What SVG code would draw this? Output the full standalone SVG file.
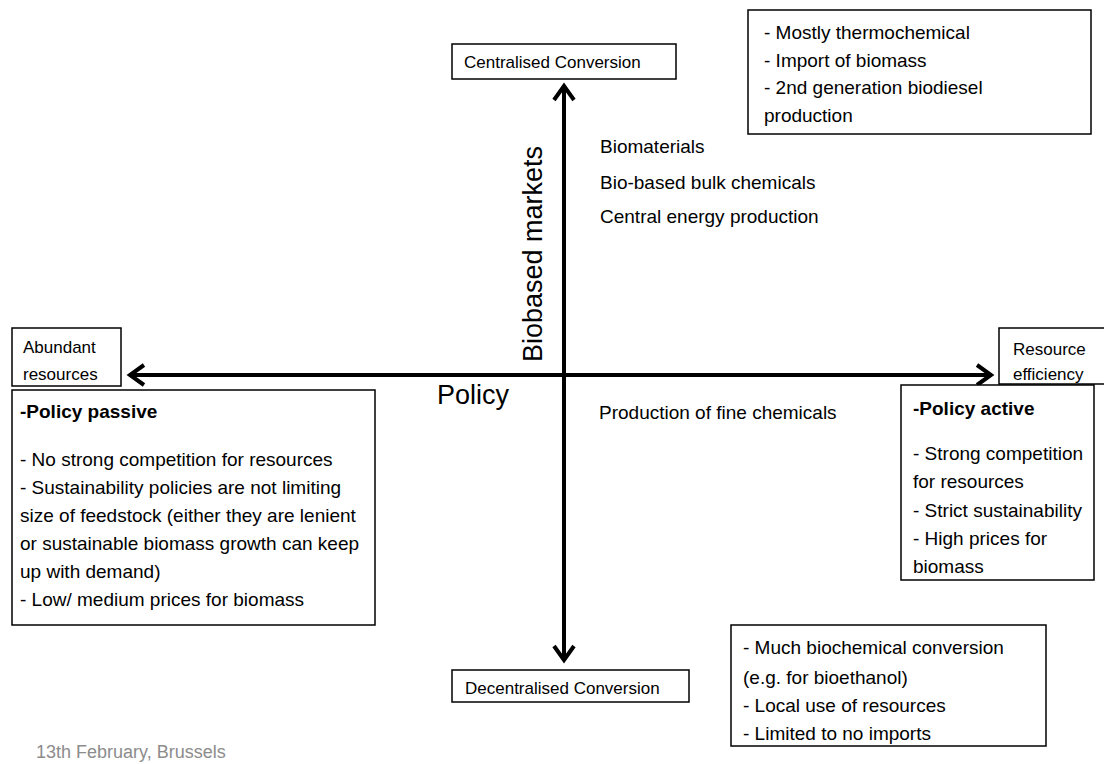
<svg xmlns="http://www.w3.org/2000/svg" width="1104" height="764" viewBox="0 0 1104 764">
<style>
text{font-family:"Liberation Sans",Arial,sans-serif;fill:#000}
.box{fill:#fff;stroke:#000;stroke-width:1.5}
.t{font-size:19px}
.s{font-size:17px}
.b{font-weight:bold}
.ax{stroke:#000;stroke-width:4;fill:none}
.ah{stroke:#000;stroke-width:4;fill:none;stroke-linecap:butt;stroke-linejoin:miter}
</style>
<rect width="1104" height="764" fill="#fff"/>
<g id="connectors">
<line class="ax" x1="564" y1="86" x2="564" y2="660"/>
<line class="ax" x1="130" y1="375" x2="991" y2="375"/>
<path class="ah" d="M554,100 L564,86 L574,100"/>
<path class="ah" d="M554,646 L564,660 L574,646"/>
<path class="ah" d="M144,365 L130,375 L144,385"/>
<path class="ah" d="M977,365 L991,375 L977,385"/>
</g>
<g id="centralised">
<rect class="box" x="452" y="44" width="224" height="35"/>
<text class="s" x="464" y="68">Centralised Conversion</text>
</g>
<g id="decentralised">
<rect class="box" x="452" y="670" width="237" height="32"/>
<text class="s" x="465" y="694">Decentralised Conversion</text>
</g>
<g id="abundant">
<rect class="box" x="12" y="328" width="109" height="58"/>
<text class="s" x="23" y="353">Abundant</text>
<text class="s" x="23" y="380">resources</text>
</g>
<g id="efficiency">
<rect class="box" x="999" y="328" width="110" height="56"/>
<text class="s" x="1013" y="355">Resource</text>
<text class="s" x="1013" y="380">efficiency</text>
</g>
<g id="passive">
<rect class="box" x="12" y="390" width="363" height="235"/>
<text class="t b" x="20" y="418">-Policy passive</text>
<text class="t" x="20" y="466">- No strong competition for resources</text>
<text class="t" x="20" y="494">- Sustainability policies are not limiting</text>
<text class="t" x="20" y="522">size of feedstock (either they are lenient</text>
<text class="t" x="20" y="550">or sustainable biomass growth can keep</text>
<text class="t" x="20" y="578">up with demand)</text>
<text class="t" x="20" y="606">- Low/ medium prices for biomass</text>
</g>
<g id="active">
<rect class="box" x="901" y="385" width="193" height="195"/>
<text class="t b" x="913" y="415">-Policy active</text>
<text class="t" x="913" y="460">- Strong competition</text>
<text class="t" x="913" y="488">for resources</text>
<text class="t" x="913" y="517">- Strict sustainability</text>
<text class="t" x="913" y="545">- High prices for</text>
<text class="t" x="913" y="573">biomass</text>
</g>
<g id="thermo">
<rect class="box" x="748" y="10" width="343" height="124"/>
<text class="t" x="764" y="39">- Mostly thermochemical</text>
<text class="t" x="764" y="67">- Import of biomass</text>
<text class="t" x="764" y="94">- 2nd generation biodiesel</text>
<text class="t" x="764" y="122">production</text>
</g>
<g id="biochem">
<rect class="box" x="731" y="625" width="315" height="121"/>
<text class="t" x="743" y="654">- Much biochemical conversion</text>
<text class="t" x="743" y="684">(e.g. for bioethanol)</text>
<text class="t" x="743" y="712">- Local use of resources</text>
<text class="t" x="743" y="740">- Limited to no imports</text>
</g>
<g id="labels">
<text class="t" x="600" y="153">Biomaterials</text>
<text class="t" x="600" y="189">Bio-based bulk chemicals</text>
<text class="t" x="600" y="223">Central energy production</text>
<text class="t" x="599" y="419">Production of fine chemicals</text>
<text x="437" y="404" style="font-size:27px">Policy</text>
<text x="0" y="0" transform="translate(542,362) rotate(-90)" style="font-size:27px">Biobased markets</text>
<text x="36" y="758" style="font-size:18px;fill:#8c8c8c">13th February, Brussels</text>
</g>
</svg>
